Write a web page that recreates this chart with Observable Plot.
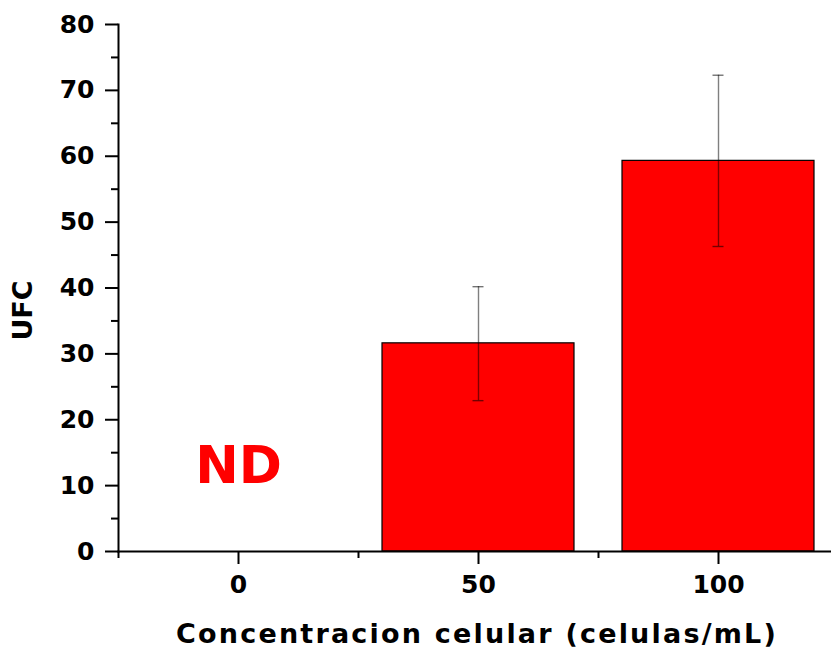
<!DOCTYPE html>
<html>
<head>
<meta charset="utf-8">
<script src="https://cdn.jsdelivr.net/npm/d3@7"></script>
<script src="https://cdn.jsdelivr.net/npm/@observablehq/plot@0.6"></script>
<style>
  html, body { margin: 0; padding: 0; background: white; overflow: hidden; }
  #chart svg { display: block; }
</style>
</head>
<body>
<div id="chart"></div>
<script>
// ---- data ----
const categories = ["0", "50", "100"];
const means      = [null, 31.6, 59.3];   // "0" : not detected (ND)
const errLow     = [null, 22.9, 46.3];
const errHigh    = [null, 40.2, 72.3];
const yTicks      = [0, 10, 20, 30, 40, 50, 60, 70, 80];
const yMinorTicks = [5, 15, 25, 35, 45, 55, 65, 75];
const ndCategory  = ["0"];
const ndText      = "ND";
const xTitle = "Concentracion celular (celulas/mL)";
const yTitle = "UFC";

const data = categories
  .map((c, i) => ({cat: c, mean: means[i], lo: errLow[i], hi: errHigh[i]}))
  .filter(d => d.mean != null);

const font = "DejaVu Sans";

const chart = Plot.plot({
  width: 831,
  height: 656,
  marginLeft: 118,
  marginRight: 0,
  marginTop: 24,
  marginBottom: 105,
  style: {fontFamily: font, fontWeight: "bold", color: "black", background: "white", overflow: "visible"},
  x: {type: "band", domain: categories, range: [118, 838], paddingInner: 0.2, paddingOuter: 0.1},
  y: {domain: [0, 80]},
  marks: [
    Plot.barY(data, {x: "cat", y: "mean", fill: "#ff0000", stroke: "black", strokeWidth: 1.2}),
    Plot.ruleX(data, {x: "cat", y1: "lo", y2: "hi", stroke: "black", strokeOpacity: 0.5, strokeWidth: 1.4}),
    Plot.tickY(data, {x: "cat", y: "lo", insetLeft: 90.5, insetRight: 90.5, stroke: "black", strokeOpacity: 0.55, strokeWidth: 1.4}),
    Plot.tickY(data, {x: "cat", y: "hi", insetLeft: 90.5, insetRight: 90.5, stroke: "black", strokeOpacity: 0.55, strokeWidth: 1.4}),
    Plot.frame({anchor: "left", strokeWidth: 2}),
    Plot.frame({anchor: "bottom", strokeWidth: 2}),
    Plot.axisY({ticks: yTicks, tickSize: 13, tickPadding: 11, fontSize: 25, fontWeight: "bold", label: null, strokeWidth: 2}),
    Plot.axisY({ticks: yMinorTicks, tickSize: 7, text: null, label: null, strokeWidth: 2}),
    Plot.axisX({ticks: categories, tickSize: 13, tickPadding: 11, fontSize: 25, fontWeight: "bold", label: null, strokeWidth: 2}),
    Plot.ruleX(categories, {x: d => d, y1: 0, y2: 0, insetBottom: -7, dx: -120, stroke: "black", strokeWidth: 2}),
    Plot.text(ndCategory, {x: d => d, frameAnchor: "bottom", lineAnchor: "middle", textAnchor: "middle", dy: -85.6, text: () => ndText, fill: "#ff0000", fontSize: 52, fontWeight: "bold"}),
    Plot.text([xTitle], {frameAnchor: "bottom", lineAnchor: "middle", textAnchor: "middle", dx: 2, dy: 82.5, text: d => d, fontSize: 27, fontWeight: "bold", fill: "black"}),
    Plot.text([yTitle], {frameAnchor: "left", lineAnchor: "middle", textAnchor: "middle", dx: -95, dy: 22.5, rotate: -90, text: d => d, fontSize: 27, fontWeight: "bold", fill: "black"})
  ]
});

d3.select(chart).selectAll("text").filter(function() { return this.textContent === xTitle; })
  .style("letter-spacing", "2.2px");

document.getElementById("chart").appendChild(chart);
</script>
</body>
</html>
